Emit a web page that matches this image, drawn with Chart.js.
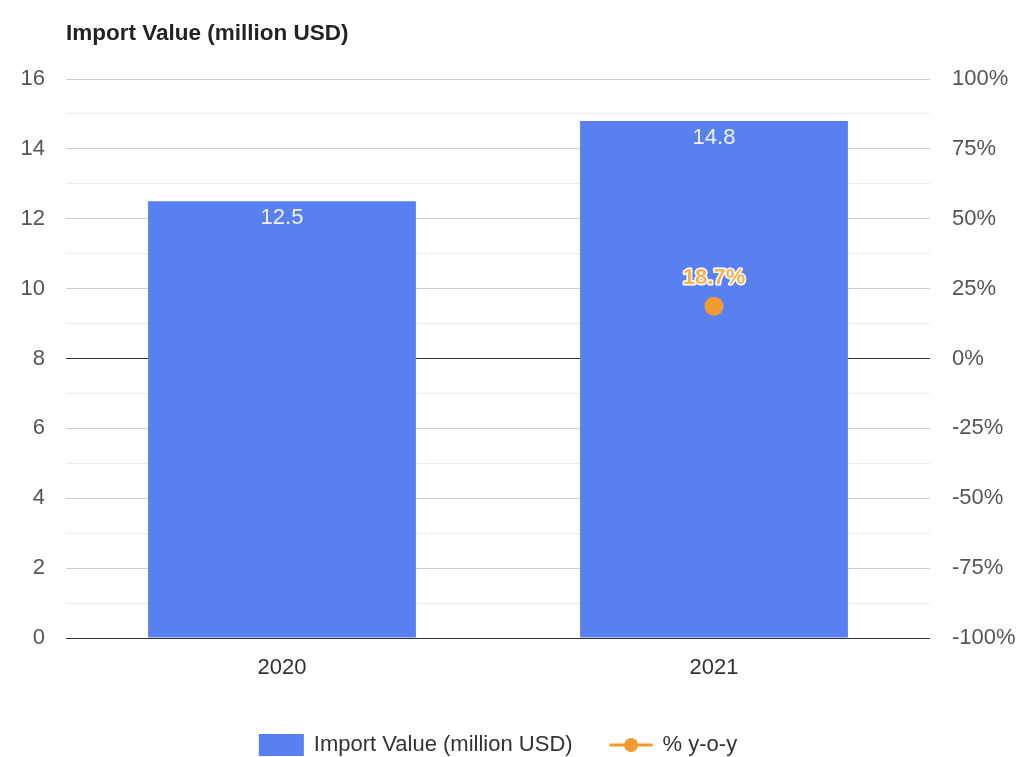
<!DOCTYPE html>
<html>
<head>
<meta charset="utf-8">
<script src="https://cdn.jsdelivr.net/npm/chart.js@4"></script>
<style>
  body { margin: 0; background: #fff; }
  #wrap { width: 1018px; height: 757px; }
</style>
</head>
<body>
<div id="wrap"><canvas id="chart"></canvas></div>
<script>
const years = ['2020', '2021'];
const importValues = [12.5, 14.8];
const yoyValues = [null, 18.7];
const leftTicks = [0, 2, 4, 6, 8, 10, 12, 14, 16];
const rightTicks = [-100, -75, -50, -25, 0, 25, 50, 75, 100];

const barColor = '#5880f0';
const lineColor = '#f39a30';
const fontFamily = '"Liberation Sans", Arial, sans-serif';

// draws title, value labels and legend
const extras = {
    id: 'extras',
    afterDatasetsDraw(chart) {
        const ctx = chart.ctx;
        const area = chart.chartArea;
        ctx.save();

        ctx.font = 'bold 22.5px ' + fontFamily;
        ctx.fillStyle = '#222';
        ctx.textAlign = 'left';
        ctx.textBaseline = 'middle';
        ctx.fillText('Import Value (million USD)', area.left, 34);

        // bar labels
        const barMeta = chart.getDatasetMeta(0);
        ctx.font = '22px ' + fontFamily;
        ctx.fillStyle = '#eef2ff';
        ctx.textAlign = 'center';
        barMeta.data.forEach((bar, i) => {
            ctx.fillText(String(importValues[i]), bar.x, bar.y + 17);
        });

        // line labels
        const lineMeta = chart.getDatasetMeta(1);
        ctx.font = 'bold 22px ' + fontFamily;
        ctx.lineJoin = 'round';
        lineMeta.data.forEach((pt, i) => {
            if (yoyValues[i] === null) return;
            const txt = yoyValues[i].toFixed(1) + '%';
            ctx.strokeStyle = '#ffffff';
            ctx.lineWidth = 3;
            ctx.strokeText(txt, pt.x, pt.y - 28);
            ctx.fillStyle = '#f6b24c';
            ctx.fillText(txt, pt.x, pt.y - 28);
        });

        // legend
        const label1 = 'Import Value (million USD)';
        const label2 = '% y-o-y';
        ctx.font = '22px ' + fontFamily;
        const w1 = ctx.measureText(label1).width;
        const w2 = ctx.measureText(label2).width;
        const total = 45 + 10 + w1 + 37 + 43 + 10 + w2;
        let x = (area.left + area.right) / 2 - total / 2;
        const ly = 745;
        ctx.fillStyle = barColor;
        ctx.fillRect(x, ly - 11, 45, 22);
        x += 55;
        ctx.fillStyle = '#333';
        ctx.textAlign = 'left';
        ctx.fillText(label1, x, ly);
        x += w1 + 37;
        ctx.strokeStyle = lineColor;
        ctx.lineWidth = 3;
        ctx.beginPath();
        ctx.moveTo(x, ly);
        ctx.lineTo(x + 43, ly);
        ctx.stroke();
        ctx.fillStyle = lineColor;
        ctx.beginPath();
        ctx.arc(x + 21.5, ly, 7, 0, Math.PI * 2);
        ctx.fill();
        x += 53;
        ctx.fillStyle = '#333';
        ctx.fillText(label2, x, ly);

        ctx.restore();
    }
};

new Chart(document.getElementById('chart'), {
    data: {
        labels: years,
        datasets: [{
            type: 'bar',
            label: 'Import Value (million USD)',
            data: importValues,
            backgroundColor: barColor,
            categoryPercentage: 0.62,
            barPercentage: 1,
            yAxisID: 'y',
            order: 2
        }, {
            type: 'line',
            label: '% y-o-y',
            data: yoyValues,
            borderColor: lineColor,
            backgroundColor: lineColor,
            borderWidth: 3,
            pointRadius: 8,
            pointHoverRadius: 8,
            yAxisID: 'y1',
            order: 1
        }]
    },
    options: {
        responsive: true,
        maintainAspectRatio: false,
        animation: false,
        layout: { padding: { top: 79, left: 0, right: 0, bottom: 0 } },
        plugins: {
            legend: { display: false },
            tooltip: { enabled: false }
        },
        scales: {
            x: {
                grid: { display: false },
                border: { display: false },
                ticks: { color: '#333', font: { family: fontFamily, size: 22 }, padding: 9 },
                afterFit(scale) { scale.height = 119; }
            },
            y: {
                position: 'left',
                min: 0,
                max: 16,
                border: { display: false },
                afterBuildTicks(scale) {
                    const t = [];
                    for (let v = 0; v <= 16; v++) t.push({ value: v });
                    scale.ticks = t;
                },
                ticks: {
                    color: '#555',
                    font: { family: fontFamily, size: 22 },
                    padding: 21,
                    callback: (v) => leftTicks.includes(v) ? String(v) : ''
                },
                grid: {
                    drawTicks: false,
                    lineWidth: 1,
                    color: (c) => {
                        const v = c.tick.value;
                        if (v === 0 || v === 8) return '#333333';
                        return v % 2 === 0 ? '#cccccc' : '#ececec';
                    }
                },
                afterFit(scale) { scale.width = 66; }
            },
            y1: {
                position: 'right',
                min: -100,
                max: 100,
                border: { display: false },
                afterBuildTicks(scale) {
                    scale.ticks = rightTicks.map(v => ({ value: v }));
                },
                ticks: {
                    color: '#555',
                    font: { family: fontFamily, size: 22 },
                    padding: 22,
                    callback: (v) => v + '%'
                },
                grid: { drawOnChartArea: false, drawTicks: false },
                afterFit(scale) { scale.width = 88; }
            }
        }
    },
    plugins: [extras]
});
</script>
</body>
</html>
